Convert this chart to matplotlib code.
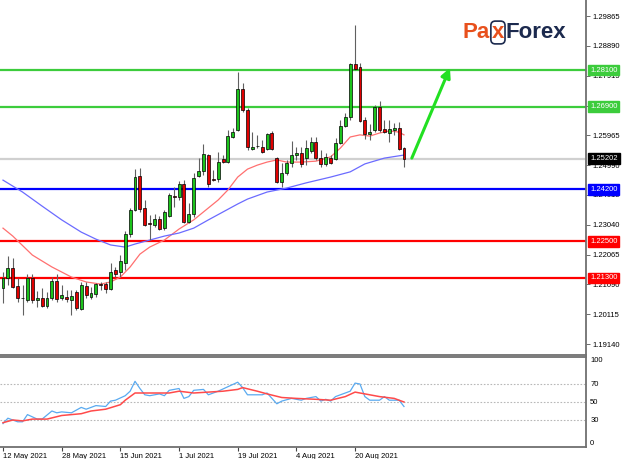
import matplotlib
matplotlib.use('Agg')
import matplotlib.pyplot as plt
import numpy as np

# --- data ---
date_bars = [0, 12, 24, 36, 48, 60, 72]
date_labels = ['12 May 2021', '28 May 2021', '15 Jun 2021', '1 Jul 2021',
               '19 Jul 2021', '4 Aug 2021', '20 Aug 2021']

opens = [1.2097, 1.2130, 1.2163, 1.2104, 1.2066, 1.2058, 1.2130, 1.2058, 1.2065, 1.2038,
         1.2065, 1.2120, 1.2065, 1.2068, 1.2058, 1.2084, 1.2029, 1.2104, 1.2068, 1.2078,
         1.2110, 1.2110, 1.2094, 1.2156, 1.2150, 1.2179, 1.2274, 1.2352, 1.2464, 1.2359,
         1.2310, 1.2303, 1.2323, 1.2293, 1.2333, 1.2398, 1.2395, 1.2437, 1.2313, 1.2339,
         1.2464, 1.2480, 1.2532, 1.2455, 1.2454, 1.2519, 1.2509, 1.2591, 1.2614, 1.2748,
         1.2679, 1.2552, 1.2562, 1.2558, 1.2552, 1.2604, 1.2522, 1.2444, 1.2473, 1.2506,
         1.2532, 1.2539, 1.2522, 1.2545, 1.2575, 1.2522, 1.2503, 1.2522, 1.2519, 1.2571,
         1.2627, 1.2656, 1.2830, 1.2820, 1.2647, 1.2601, 1.2614, 1.2689, 1.2617, 1.2604,
         1.2614, 1.2620, 1.2555]
highs = [1.2150, 1.2202, 1.2195, 1.2130, 1.2107, 1.2143, 1.2143, 1.2087, 1.2097, 1.2084,
         1.2133, 1.2143, 1.2107, 1.2091, 1.2091, 1.2091, 1.2117, 1.2117, 1.2101, 1.2114,
         1.2117, 1.2117, 1.2179, 1.2166, 1.2205, 1.2284, 1.2359, 1.2486, 1.2490, 1.2385,
         1.2336, 1.2339, 1.2333, 1.2352, 1.2408, 1.2428, 1.2447, 1.2450, 1.2375, 1.2473,
         1.2523, 1.2568, 1.2535, 1.2483, 1.2542, 1.2532, 1.2614, 1.2620, 1.2804, 1.2768,
         1.2686, 1.2607, 1.2598, 1.2581, 1.2604, 1.2611, 1.2526, 1.2506, 1.2516, 1.2578,
         1.2558, 1.2558, 1.2581, 1.2591, 1.2591, 1.2549, 1.2539, 1.2532, 1.2588, 1.2647,
         1.2670, 1.2833, 1.2957, 1.2833, 1.2656, 1.2634, 1.2696, 1.2709, 1.2647, 1.2647,
         1.2637, 1.2640, 1.2558]
lows = [1.2048, 1.2107, 1.2097, 1.2052, 1.2009, 1.2052, 1.2048, 1.2035, 1.2035, 1.2032,
        1.2058, 1.2052, 1.2058, 1.2052, 1.2009, 1.2025, 1.2025, 1.2065, 1.2061, 1.2068,
        1.2091, 1.2081, 1.2091, 1.2133, 1.2133, 1.2156, 1.2264, 1.2349, 1.2346, 1.2300,
        1.2254, 1.2297, 1.2287, 1.2287, 1.2329, 1.2362, 1.2385, 1.2310, 1.2310, 1.2329,
        1.2460, 1.2467, 1.2428, 1.2447, 1.2444, 1.2506, 1.2506, 1.2588, 1.2611, 1.2673,
        1.2549, 1.2549, 1.2555, 1.2539, 1.2549, 1.2549, 1.2441, 1.2428, 1.2467, 1.2493,
        1.2516, 1.2493, 1.2500, 1.2539, 1.2516, 1.2493, 1.2496, 1.2503, 1.2516, 1.2568,
        1.2624, 1.2647, 1.2810, 1.2640, 1.2585, 1.2581, 1.2607, 1.2607, 1.2604, 1.2575,
        1.2598, 1.2549, 1.2493]
closes = [1.2130, 1.2163, 1.2101, 1.2065, 1.2063, 1.2130, 1.2058, 1.2065, 1.2038, 1.2065,
          1.2120, 1.2061, 1.2074, 1.2061, 1.2071, 1.2032, 1.2107, 1.2074, 1.2081, 1.2110,
          1.2107, 1.2094, 1.2150, 1.2143, 1.2186, 1.2274, 1.2352, 1.2460, 1.2356, 1.2303,
          1.2307, 1.2323, 1.2290, 1.2346, 1.2401, 1.2395, 1.2437, 1.2313, 1.2339, 1.2457,
          1.2480, 1.2535, 1.2437, 1.2452, 1.2509, 1.2509, 1.2594, 1.2607, 1.2748, 1.2679,
          1.2558, 1.2558, 1.2560, 1.2542, 1.2601, 1.2552, 1.2444, 1.2473, 1.2506, 1.2532,
          1.2539, 1.2503, 1.2555, 1.2575, 1.2522, 1.2503, 1.2526, 1.2506, 1.2571, 1.2627,
          1.2656, 1.2830, 1.2813, 1.2643, 1.2601, 1.2607, 1.2689, 1.2614, 1.2607, 1.2617,
          1.2620, 1.2552, 1.25202]

fast_ma_bars = [0, 2, 6, 10, 14, 17, 20, 22, 24, 26, 28, 30, 33, 36, 39, 42, 44, 46, 48,
                50, 52, 54, 56, 58, 61, 64, 67, 69, 71, 73, 75, 77, 79, 81, 82]
fast_ma = [1.2293, 1.2267, 1.2205, 1.2166, 1.2133, 1.2117, 1.2110, 1.2117, 1.2133, 1.2166,
           1.2208, 1.2231, 1.2254, 1.2290, 1.2320, 1.2359, 1.2385, 1.2418, 1.2460,
           1.2486, 1.2499, 1.2509, 1.2516, 1.2509, 1.2509, 1.2512, 1.2526, 1.2555, 1.2591,
           1.2598, 1.2594, 1.2604, 1.2611, 1.2607, 1.2598]
slow_ma_bars = [0, 4, 8, 12, 16, 19, 22, 25, 27, 30, 33, 36, 39, 42, 45, 48, 50, 54, 58,
                62, 67, 71, 74, 78, 82]
slow_ma = [1.2450, 1.2411, 1.2365, 1.2320, 1.2280, 1.2257, 1.2238, 1.2231, 1.2241, 1.2254,
           1.2267, 1.2277, 1.2293, 1.2320, 1.2346, 1.2372, 1.2388, 1.2411, 1.2424,
           1.2441, 1.2460, 1.2477, 1.2503, 1.2522, 1.2532]

levels = [1.28100, 1.26900, 1.24200, 1.22500, 1.21300]
last_price = 1.25202
price_ticks = [1.29865, 1.28890, 1.27915, 1.26940, 1.25965, 1.24990,
               1.24015, 1.23040, 1.22065, 1.21090, 1.20115, 1.19140]
price_tick_labels = ['1.29865', '1.28890', '1.27915', '', '1.25965', '1.24990',
                     '1.24015', '1.23040', '1.22065', '1.21090', '1.20115', '1.19140']

osc_bars = [0, 1, 3, 4, 5, 7, 8, 10, 11, 12, 14, 16, 17, 19, 21, 22, 23, 25, 26, 27,
            28, 29, 30, 32, 33, 34, 35, 36, 37, 38, 39, 41, 42, 43, 44, 46, 48, 49, 50,
            52, 53, 54, 55, 56, 57, 59, 61, 62, 64, 65, 66, 67, 68, 70, 71, 72, 73, 74,
            75, 77, 78, 79, 80, 81, 82]
osc_main = [26, 32, 28, 28, 36, 31, 31, 40, 38, 39, 38, 44, 42, 46, 45, 51, 52, 57, 62, 73,
            65, 58, 57, 59, 57, 63, 64, 65, 54, 56, 63, 64, 58, 60, 62, 67, 72, 66, 58,
            58, 58, 60, 54, 48, 51, 54, 52, 54, 56, 51, 53, 51, 56, 60, 62, 71, 70, 56,
            52, 52, 56, 52, 52, 52, 45]
sig_bars = [0, 2, 4, 6, 9, 12, 16, 18, 21, 24, 25, 27, 30, 34, 36, 39, 42, 45, 48, 49,
            52, 54, 57, 60, 64, 67, 70, 72, 75, 77, 80, 82]
osc_signal = [27, 30, 29, 31, 31, 35, 37, 40, 42, 47, 52, 60, 60, 60, 62, 60, 61, 62, 64, 66,
              62, 59, 55, 54, 53, 52, 56, 61, 58, 56, 54, 50]

# --- style ---
green = '#1cc31c'
red = '#e00000'
level_colors = ['#3ccc3c', '#3ccc3c', '#0000ff', '#ff0000', '#ff0000']
axis_col = '#707070'
W, H = 624, 459
px_per_bar = 4.89

fig = plt.figure(figsize=(W / 100, H / 100), dpi=100)
ax = fig.add_axes([0, 1 - 355 / H, 586 / W, 355 / H])
ax2 = fig.add_axes([0, 1 - 447 / H, 586 / W, 90 / H])

for a in (ax, ax2):
    a.set_xlim(-3 / px_per_bar, 583 / px_per_bar)
    a.spines['left'].set_visible(False)
    for s in ('right', 'top', 'bottom'):
        a.spines[s].set_color(axis_col)
        a.spines[s].set_linewidth(1.3)
ax.spines['top'].set_visible(False)
ax.set_ylim(1.3039 - 0.000327 * 355, 1.3039)
ax2.set_ylim(0, 100)

# candles
bars = np.arange(len(opens))
o = np.array(opens); c = np.array(closes)
hi = np.array(highs); lo = np.array(lows)
up = c >= o
ax.vlines(bars, lo, hi, color='#606060', lw=0.8, zorder=4)
body_lo = np.minimum(o, c)
body_h = np.maximum(np.abs(c - o), 0.00005)
ax.bar(bars[up], body_h[up], bottom=body_lo[up], width=0.6, color=green,
       edgecolor='black', linewidth=0.5, zorder=5)
ax.bar(bars[~up], body_h[~up], bottom=body_lo[~up], width=0.6, color=red,
       edgecolor='black', linewidth=0.5, zorder=5)

# moving averages
ax.plot(fast_ma_bars, fast_ma, color='#ff7070', lw=0.9, zorder=3)
ax.plot(slow_ma_bars, slow_ma, color='#6b6bff', lw=0.9, zorder=3)

# horizontal levels and last price
ax.axhline(last_price, color='#d0d0d0', lw=1.6, zorder=1)
for lvl, col in zip(levels, level_colors):
    ax.axhline(lvl, color=col, lw=1.6, zorder=2)

ytr = ax.get_yaxis_transform()
for lvl, col in zip(levels + [last_price], level_colors + ['black']):
    ax.text(1.007, lvl, f'{lvl:.5f}', transform=ytr, color='white', fontsize=5.5,
            family='Liberation Sans', ha='left', va='center', clip_on=False, zorder=10,
            bbox=dict(boxstyle='square,pad=0.25', fc=col, ec=col))

# arrow
ax.annotate('', xy=(91.4, 1.2817), xytext=(83.6, 1.2522),
            arrowprops=dict(arrowstyle='-|>', color='#22e022', lw=2.2,
                            mutation_scale=14, shrinkA=0, shrinkB=0), zorder=6)

ax.yaxis.tick_right()
ax.set_yticks(price_ticks)
ax.set_yticklabels(price_tick_labels)
ax.tick_params(axis='y', length=3, width=0.6, color='#555555', labelsize=5.5, pad=2)
ax.set_xticks([])
for t in ax.get_yticklabels():
    t.set_family('Liberation Sans')

# oscillator panel
for lvl in (30, 50, 70):
    ax2.axhline(lvl, color='#b8b8b8', lw=0.8, ls=(0, (1.5, 1.5)), zorder=1)
ax2.plot(osc_bars, osc_main, color='#5aaaf0', lw=0.9, zorder=3)
ax2.plot(sig_bars, osc_signal, color='#ff4a4a', lw=1.1, zorder=3)
ax2.yaxis.tick_right()
ax2.set_yticks([0, 30, 50, 70, 100])
ax2.set_yticklabels(['0', '30', '50', '70', '100'])
ax2.tick_params(axis='y', length=0, labelsize=5.5, pad=3)
ylabs = ax2.get_yticklabels()
ylabs[0].set_va('bottom')
ylabs[-1].set_va('top')
for t in ylabs:
    t.set_family('Liberation Sans')

ax2.set_xticks(date_bars)
ax2.set_xticklabels(date_labels, ha='left', fontsize=5.5, family='Liberation Sans')
ax2.tick_params(axis='x', length=3, width=0.8, color='#444444', pad=1)

# logo
orange = '#e8501c'
navy = '#1c2a4e'
fig.canvas.draw()
r = fig.canvas.get_renderer()
by = 1 - 38 / H
t1 = fig.text(463 / W, by, 'Pa', color=orange, fontsize=16, fontweight='bold',
              family='Liberation Sans', va='baseline')
x1 = t1.get_window_extent(r).x1
t2 = fig.text((x1 + 1.5) / W, by, 'x', color=orange, fontsize=16, fontweight='bold',
              family='Liberation Sans', va='baseline',
              bbox=dict(boxstyle='round,pad=0.04,rounding_size=0.2', fc='none', ec=navy, lw=1.2))
x2 = t2.get_window_extent(r).x1
fig.text((x2 + 1.5) / W, by, 'Forex', color=navy, fontsize=16, fontweight='bold',
         family='Liberation Sans', va='baseline')

fig.savefig('out.png', dpi=100)
